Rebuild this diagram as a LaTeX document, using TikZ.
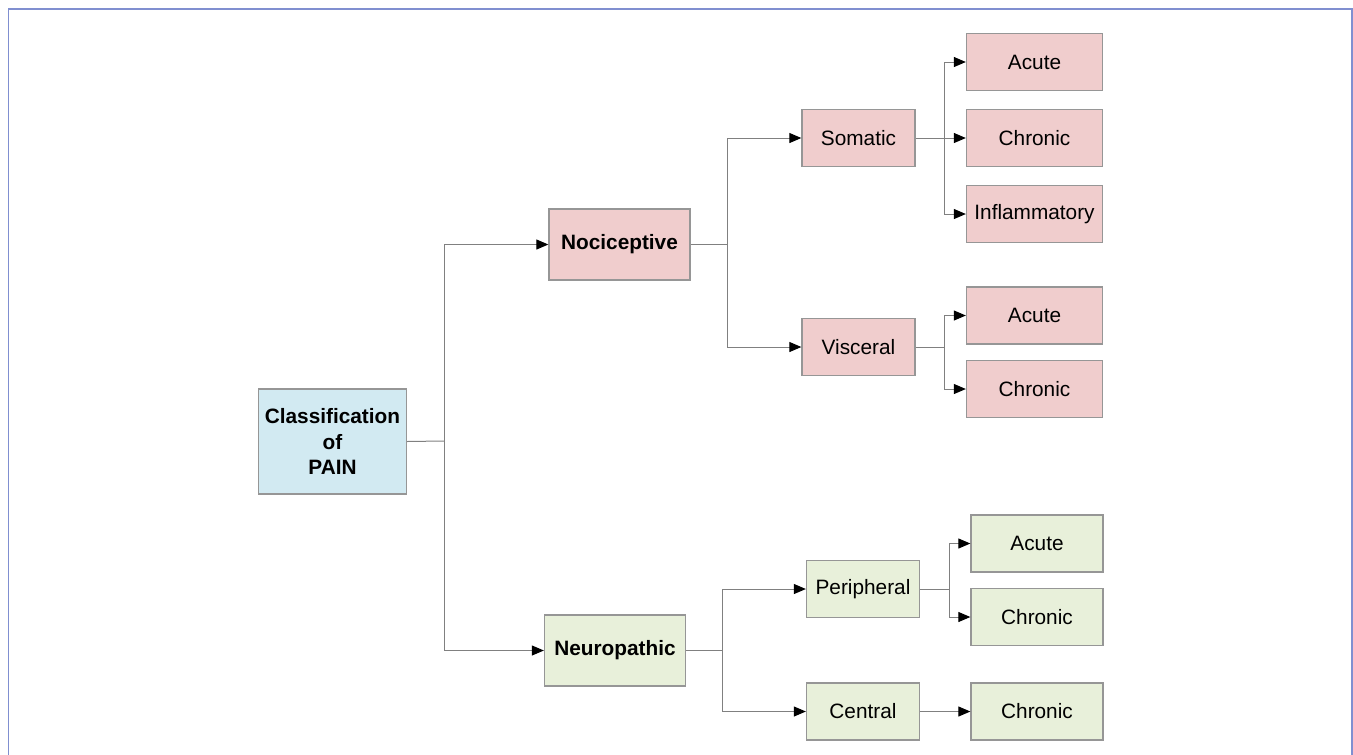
\documentclass[tikz,border=0pt]{standalone}
\usepackage{fontspec}
\setmainfont{Liberation Sans}
\usetikzlibrary{arrows.meta}
\definecolor{pinkfill}{RGB}{240,205,205}
\definecolor{bluefill}{RGB}{210,234,242}
\definecolor{greenfill}{RGB}{232,240,218}
\definecolor{boxline}{RGB}{150,150,150}
\definecolor{connline}{RGB}{128,128,128}
\definecolor{framecol}{RGB}{128,143,208}
\tikzset{
  box/.style={draw=boxline, line width=1.3pt, inner sep=0pt, font=\fontsize{20.8}{25}\selectfont, align=center},
  pinkbox/.style={box, fill=pinkfill},
  greenbox/.style={box, fill=greenfill},
  bluebox/.style={box, fill=bluefill},
  conn/.style={draw=connline, line width=1pt},
  arr/.style={conn, -{Triangle[length=12pt,width=10pt,fill=black,color=black]}},
}
\begin{document}
\begin{tikzpicture}[x=1pt,y=-1pt]
\useasboundingbox (0,0) rectangle (1353,755);
\draw[framecol, line width=1.6pt] (8.5,760) -- (8.5,9) -- (1352,9) -- (1352,760);

% nodes (centre, width, height in px)
\node[bluebox, minimum width=148pt, minimum height=105pt, font=\bfseries\fontsize{20.8}{25.5}\selectfont] (root) at (332.5,441.5) {Classification\\of\\PAIN};

\node[pinkbox, minimum width=141pt, minimum height=71pt, font=\bfseries\fontsize{20.8}{25}\selectfont] (noci) at (619.5,244.5) {Nociceptive};
\node[greenbox, minimum width=141pt, minimum height=71pt, font=\bfseries\fontsize{20.8}{25}\selectfont] (neuro) at (615,650.5) {Neuropathic};

\node[pinkbox, minimum width=113pt, minimum height=57pt] (som) at (858.5,138) {Somatic};
\node[pinkbox, minimum width=113pt, minimum height=57pt] (vis) at (858.5,347) {Visceral};
\node[greenbox, minimum width=113pt, minimum height=57pt] (per) at (863,589) {Peripheral};
\node[greenbox, minimum width=113pt, minimum height=57pt] (cen) at (863,711.5) {Central};

\node[pinkbox, minimum width=136pt, minimum height=57pt] (sa) at (1034.5,62) {Acute};
\node[pinkbox, minimum width=136pt, minimum height=57pt] (sc) at (1034.5,138) {Chronic};
\node[pinkbox, minimum width=136pt, minimum height=57pt] (si) at (1034.5,214) {Inflammatory};
\node[pinkbox, minimum width=136pt, minimum height=57pt] (va) at (1034.5,315.5) {Acute};
\node[pinkbox, minimum width=136pt, minimum height=57pt] (vc) at (1034.5,389) {Chronic};
\node[greenbox, minimum width=132pt, minimum height=57pt] (pa) at (1037,543.5) {Acute};
\node[greenbox, minimum width=132pt, minimum height=57pt] (pc) at (1037,617) {Chronic};
\node[greenbox, minimum width=132pt, minimum height=57pt] (cc) at (1037,711.5) {Chronic};

% junction coordinates
\coordinate (j0) at (444,441);
\coordinate (j1) at (727,244.5);
\coordinate (j2) at (722.5,650.5);
\coordinate (j3) at (944.5,138);
\coordinate (j4) at (944.5,347);
\coordinate (j5) at (949,589);

% connectors
\draw[conn] (root.east) -- (j0);
\draw[arr] (j0) |- (noci.west);
\draw[arr] (j0) |- (neuro.west);

\draw[conn] (noci.east) -- (j1);
\draw[arr] (j1) |- (som.west);
\draw[arr] (j1) |- (vis.west);

\draw[conn] (neuro.east) -- (j2);
\draw[arr] (j2) |- (per.west);
\draw[arr] (j2) |- (cen.west);

\draw[conn] (som.east) -- (j3);
\draw[arr] (j3) |- (sa.west);
\draw[arr] (j3) -- (sc.west);
\draw[arr] (j3) |- (si.west);

\draw[conn] (vis.east) -- (j4);
\draw[arr] (j4) |- (va.west);
\draw[arr] (j4) |- (vc.west);

\draw[conn] (per.east) -- (j5);
\draw[arr] (j5) |- (pa.west);
\draw[arr] (j5) |- (pc.west);

\draw[arr] (cen.east) -- (cc.west);
\end{tikzpicture}
\end{document}
